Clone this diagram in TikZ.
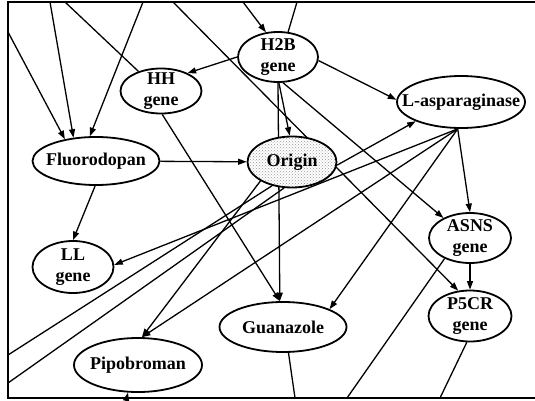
\documentclass[tikz,border=0pt]{standalone}
\usepackage{fontspec}
\setmainfont{Liberation Serif}
\usetikzlibrary{shapes.geometric,arrows.meta,patterns,backgrounds}
\begin{document}
\begin{tikzpicture}[x=1pt,y=-1pt,
  ell/.style={ellipse,draw,line width=1.8pt,fill=white,inner sep=0pt},
  txt/.style={font=\fontsize{18}{20.5}\selectfont\bfseries,align=center,inner sep=0pt},
  edge/.style={line width=1.3pt},
  arr/.style={edge,-{Triangle[length=8.5pt,width=6pt]}},
  frame/.style={line width=1.8pt}]
\useasboundingbox (0,0) rectangle (535,401);
% nodes
\node[ell,minimum width=80pt,minimum height=50pt] (H2B) at (278,57) {};
\node[txt] (H2Bt) at (H2B) {H2B\\gene};
\node[ell,minimum width=81pt,minimum height=45pt] (HH) at (161,91) {};
\node[txt] (HHt) at (HH) {HH\\gene};
\node[ell,minimum width=127pt,minimum height=48pt] (Fluo) at (96,161) {};
\node[txt] (Fluot) at (Fluo) {Fluorodopan};
\node[ell,minimum width=89pt,minimum height=51pt,preaction={fill=white},pattern=crosshatch dots,pattern color=gray!80] (Origin) at (292,162) {};
\node[txt] (Origint) at (Origin) {Origin};
\node[ell,minimum width=128pt,minimum height=52pt] (Lasp) at (461,102) {};
\node[txt] (Laspt) at (Lasp) {L-asparaginase};
\node[ell,minimum width=82pt,minimum height=50pt] (ASNS) at (470,238) {};
\node[txt] (ASNSt) at (ASNS) {ASNS\\gene};
\node[ell,minimum width=83pt,minimum height=51pt] (P5CR) at (470,316) {};
\node[txt] (P5CRt) at (P5CR) {P5CR\\gene};
\node[ell,minimum width=127pt,minimum height=50pt] (Guan) at (283,327) {};
\node[txt] (Guant) at (Guan) {Guanazole};
\node[ell,minimum width=128pt,minimum height=54pt] (Pipo) at (138,365) {};
\node[txt] (Pipot) at (Pipo) {Pipobroman};
\node[ell,minimum width=81pt,minimum height=52pt] (LL) at (73,267) {};
\node[txt] (LLt) at (LL) {LL\\gene};
% free ends
\coordinate (tA) at (50,2);
\coordinate (tB) at (143,2);
\coordinate (tC) at (65,2);
\coordinate (tD) at (173,2);
\coordinate (tE) at (243,2);
\coordinate (tF) at (297,2);
\coordinate (lA) at (8,32);
\coordinate (lB) at (8,355);
\coordinate (lC) at (8,383);
\coordinate (bA) at (295,398);
\coordinate (bB) at (347,398);
\coordinate (bC) at (440,398);
\coordinate (bD) at (126,401);
\coordinate (fTL) at (8,2);
\coordinate (fTR) at (535,2);
\coordinate (fBL) at (8,398);
\coordinate (fBR) at (535,398);
\begin{scope}[on background layer]
\draw[frame] (fTR) -- (fTL) -- (fBL) -- (fBR);
\draw[arr] (tA) -- (Fluo.134);
\draw[arr] (tB) -- (Fluo.104);
\draw[arr] (lA) -- (Fluo.145);
\draw[edge] (HH.139) -- (tC);
\draw[arr] (tD) -- (P5CR.115);
\draw[arr] (tE) -- (H2B.116);
\draw[edge] (H2B.68) -- (tF);
\draw[arr] (H2B.180) -- (HH.34);
\draw[arr] (H2B.-5) -- (Lasp.178);
\draw[arr] (H2B.-88) -- (Origin.95);
\draw[arr] (H2B.-90) -- (Guan.97);
\draw[arr] (H2B.-79) -- (ASNS.143);
\draw[arr] (HH.-87) -- (Guan.97);
\draw[arr] (Fluo) -- (Origin);
\draw[arr] (Fluo.-92) -- (LL.90);
\draw[arr] (Origin.-4) -- (Lasp.203);
\draw[arr] (Origin.211) -- (Pipo.82);
\draw[edge] (Origin.230) -- (lB);
\draw[edge] (Origin.253) -- (lC);
\draw[arr] (Lasp.263) -- (ASNS.90);
\draw[arr] (Lasp.263) -- (Guan.21);
\draw[arr] (Lasp.263) -- (LL.3);
\draw[arr] (Lasp.263) -- (Pipo.82);
\draw[arr] (ASNS) -- (P5CR);
\draw[edge] (ASNS.219) -- (bB);
\draw[edge] (P5CR.-97) -- (bC);
\draw[edge] (Guan.-78) -- (bA);
\draw[arr] (bD) -- (Pipo.-110);
\end{scope}
\end{tikzpicture}
\end{document}
